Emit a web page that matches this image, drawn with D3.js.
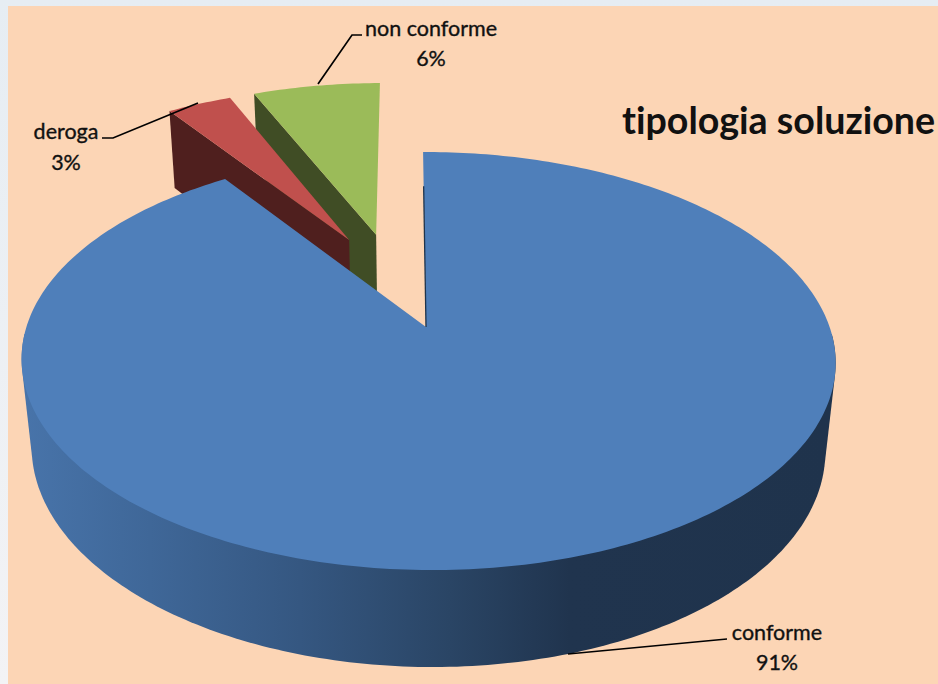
<!DOCTYPE html>
<html><head><meta charset="utf-8">
<script src="https://d3js.org/d3.v7.min.js"></script>
<style>html,body{margin:0;padding:0;background:#e9eff4;overflow:hidden}svg{display:block}
text{font-family:Lato,"Open Sans",sans-serif;fill:#111;font-variant-ligatures:none}</style></head>
<body><div id="chart"></div>
<script>
// data
const categories = ["conforme","deroga","non conforme"];
const shares = [90.5,3.2,6.3];
const shownPercent = ["91%","3%","6%"];
const explodeU = [0,-0.202,-0.13];
const explodeV = [0,-0.46,-0.49];
const topColors = ["#4f7fba","#c0504d","#9bbb59"];
const wallColors = ["#1f344c","#4f1f1e","#404d25"];
const titleText = "tipologia soluzione";

const W=938,H=684;
const svg=d3.select("#chart").append("svg").attr("width",W).attr("height",H);
const defs=svg.append("defs");
const fr=defs.append("linearGradient").attr("id","frame").attr("x1",0).attr("x2",0).attr("y1",0).attr("y2",1);
fr.append("stop").attr("offset",0).attr("stop-color","#e6edf3");
fr.append("stop").attr("offset",1).attr("stop-color","#f3f3f5");
svg.append("rect").attr("width",W).attr("height",H).attr("fill","url(#frame)");
svg.append("rect").attr("x",8).attr("y",6).attr("width",W-8).attr("height",H-6).attr("fill","#fcd5b5");

// perspective of the pie plane
const P={ox:426,oy:327,a:401.6,sh:3.4,b:203.5,p:0.1627,r:-0.005,q:0.025,c:89.7};
function project(u,v,z){
  const w=1-P.p*v+P.r*u+P.q*z;
  return [P.ox+(P.a*u+P.sh*v)/w, P.oy+(P.b*v+P.c*z)/w];
}
const arcs=d3.pie().sort(null).value(d=>d)(shares);
const line=d3.line();
function pt(i,ang,rad,z){
  return project(explodeU[i]+rad*Math.sin(ang), explodeV[i]-rad*Math.cos(ang), z);
}
function arcPts(i,a0,a1,z){
  const n=Math.max(8,Math.ceil(Math.abs(a1-a0)*60));
  return d3.range(n+1).map(k=>pt(i,a0+(a1-a0)*k/n,1,z));
}
const topShape=i=>line([pt(i,0,0,0),...arcPts(i,arcs[i].startAngle,arcs[i].endAngle,0)])+"Z";
const cutWall=i=>{const a=arcs[i].startAngle;
  return line([pt(i,a,1,0),pt(i,a,0,0),pt(i,a,0,1),pt(i,a,1,1)])+"Z";};

// side gradient of the main slice
const xs=d3.scaleLinear().domain([21,835]).range([0,1]);
const gr=defs.append("linearGradient").attr("id","wall").attr("gradientUnits","userSpaceOnUse")
  .attr("x1",21).attr("x2",835).attr("y1",0).attr("y2",0);
[[21,"#4874aa"],[150,"#3f6798"],[300,"#355781"],[450,"#2a4565"],[570,"#20344e"],[835,"#1f334c"]]
 .forEach(s=>gr.append("stop").attr("offset",xs(s[0])).attr("stop-color",s[1]));

// back to front: exploded slices, then the main one
[2,1].forEach(i=>{
  svg.append("path").attr("d",cutWall(i)).attr("fill",wallColors[i]);
  svg.append("path").attr("d",topShape(i)).attr("fill",topColors[i]);
});
const lo=92*Math.PI/180, hi=268*Math.PI/180;
const hull=d3.polygonHull([...arcPts(0,lo,hi,0),...arcPts(0,lo,hi,1)]);
svg.append("path").attr("d",line(hull)+"Z").attr("fill","url(#wall)");
svg.append("path").attr("d",topShape(0)).attr("fill",topColors[0]);
svg.append("path").attr("d",line([pt(0,0,0,0),pt(0,0,0.78,0)])).attr("fill","none")
  .attr("stroke",wallColors[0]).attr("stroke-width",1.3);

// leaders
const leaders=[[[727,639],[568,654]],[[102,138],[113,138],[198,103]],[[362,35],[352,35],[318,84]]];
leaders.forEach(l=>svg.append("path").attr("d",line(l)).attr("fill","none").attr("stroke","#000").attr("stroke-width",1.7));

// labels
const labelPos=[[777,640,670],[66,139,170],[431,36,66]];
categories.forEach((c,i)=>{
  const t=svg.append("text").attr("text-anchor","middle").attr("font-size",21.5).attr("stroke","#111").attr("stroke-width",0.35);
  t.append("tspan").attr("x",labelPos[i][0]).attr("y",labelPos[i][1]).text(c);
  t.append("tspan").attr("x",labelPos[i][0]).attr("y",labelPos[i][2]).text(shownPercent[i]);
});
svg.append("text").attr("x",622).attr("y",133.5).attr("font-size",37.6).attr("font-weight",700).text(titleText);
</script></body></html>
